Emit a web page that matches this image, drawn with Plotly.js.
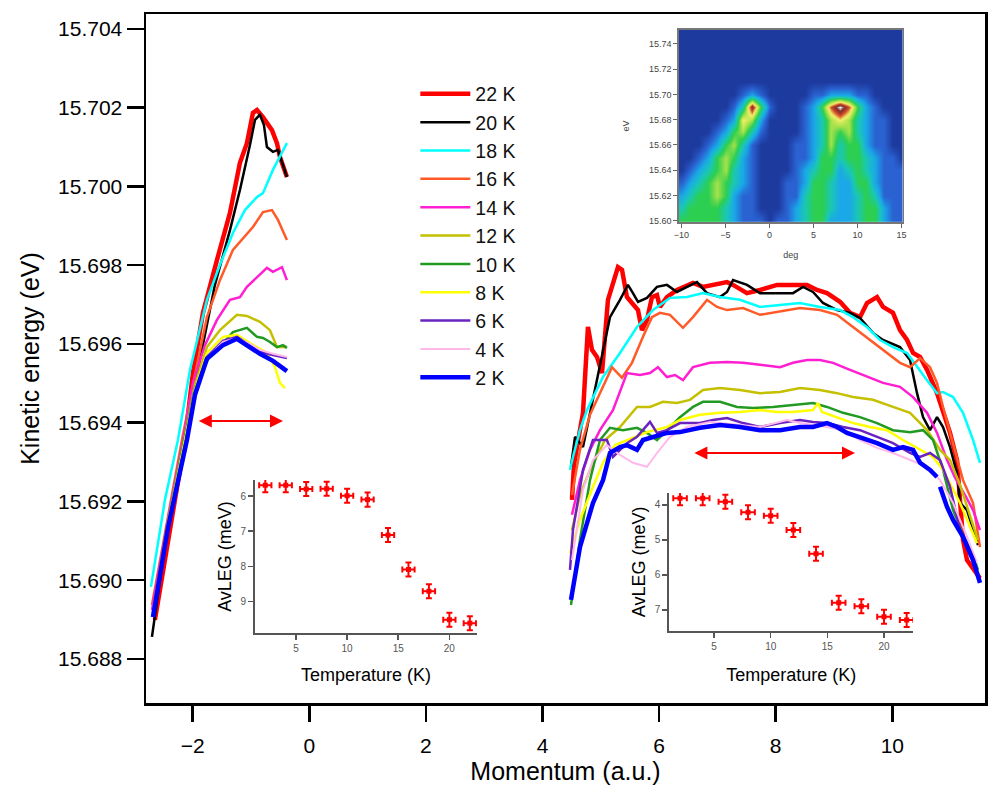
<!DOCTYPE html>
<html><head><meta charset="utf-8">
<script src="https://cdn.plot.ly/plotly-3.0.1.min.js"></script>
<style>html,body{margin:0;padding:0;background:#fff}</style>
</head><body><div id="chart" style="width:1000px;height:800px"></div>
<script>
// ---------- main EDC-peak dispersion curves (momentum a.u., kinetic energy eV) ----------
const k22L=[-2.647,-2.389,-2.132,-1.995,-1.823,-1.583,-1.360,-1.189,-1.069,-0.966,-0.897,-0.794,-0.640,-0.554,-0.503,-0.383];
const e22L=[15.68899,15.69127,15.69356,15.69526,15.69679,15.69813,15.69933,15.70060,15.70110,15.70187,15.70194,15.70176,15.70143,15.70110,15.70075,15.70024];
const k22R=[4.506,4.541,4.592,4.695,4.780,4.849,4.935,5.021,5.123,5.244,5.295,5.364,5.449,5.535,5.638,5.706,5.792,5.878,5.964,6.015,6.135,6.307,6.479,6.582,6.753,6.925,7.165,7.268,7.508,7.731,8.023,8.297,8.537,8.709,8.880,9.103,9.275,9.446,9.566,9.738,9.841,10.012,10.132,10.253,10.356,10.476,10.596,10.767,10.870,10.990,11.110,11.162,11.213,11.282,11.385,11.504];
const e22R=[15.69204,15.69293,15.69338,15.69425,15.69643,15.69585,15.69567,15.69526,15.69712,15.69770,15.69795,15.69788,15.69719,15.69704,15.69686,15.69635,15.69661,15.69719,15.69724,15.69694,15.69719,15.69737,15.69750,15.69755,15.69745,15.69750,15.69757,15.69750,15.69729,15.69737,15.69750,15.69750,15.69750,15.69737,15.69729,15.69707,15.69679,15.69668,15.69704,15.69719,15.69694,15.69679,15.69635,15.69610,15.69577,15.69567,15.69534,15.69475,15.69425,15.69374,15.69305,15.69204,15.69102,15.69051,15.69031,15.69005];

const k20L=[-2.698,-2.475,-2.166,-1.875,-1.618,-1.360,-1.189,-1.017,-0.931,-0.846,-0.777,-0.726,-0.623,-0.537,-0.468,-0.383];
const e20L=[15.68856,15.69089,15.69343,15.69559,15.69750,15.69889,15.69991,15.70105,15.70169,15.70182,15.70156,15.70100,15.70088,15.70093,15.70060,15.70024];
const k20R=[4.489,4.506,4.558,4.695,4.866,5.038,5.158,5.329,5.466,5.552,5.638,5.792,5.964,6.135,6.307,6.479,6.650,6.822,7.045,7.165,7.268,7.508,7.731,8.023,8.297,8.469,8.640,8.812,9.052,9.275,9.446,9.669,9.841,10.132,10.304,10.424,10.527,10.647,10.767,10.870,10.990,11.110,11.162,11.282,11.385,11.470];
const e20R=[15.69288,15.69305,15.69364,15.69338,15.69458,15.69577,15.69668,15.69712,15.69750,15.69729,15.69707,15.69717,15.69745,15.69750,15.69732,15.69745,15.69757,15.69729,15.69719,15.69732,15.69762,15.69750,15.69729,15.69729,15.69729,15.69745,15.69732,15.69704,15.69686,15.69679,15.69666,15.69628,15.69610,15.69592,15.69559,15.69475,15.69414,15.69381,15.69414,15.69389,15.69338,15.69272,15.69196,15.69178,15.69127,15.69089];

const k18L=[-2.715,-2.475,-2.252,-2.046,-1.755,-1.532,-1.309,-1.103,-0.897,-0.794,-0.623,-0.383];
const e18L=[15.68983,15.69204,15.69356,15.69534,15.69712,15.69801,15.69882,15.69940,15.69973,15.69983,15.70042,15.70110];
const k18R=[4.472,4.523,4.643,4.763,5.038,5.329,5.621,5.895,6.187,6.479,6.753,7.045,7.388,7.731,8.074,8.417,8.760,9.103,9.326,9.566,9.789,10.012,10.253,10.424,10.596,10.767,10.870,11.042,11.213,11.385,11.504];
const e18R=[15.69280,15.69313,15.69381,15.69432,15.69516,15.69577,15.69643,15.69686,15.69717,15.69719,15.69729,15.69719,15.69712,15.69694,15.69699,15.69704,15.69694,15.69686,15.69668,15.69643,15.69610,15.69592,15.69577,15.69541,15.69508,15.69475,15.69478,15.69465,15.69425,15.69356,15.69298];

const k16L=[-2.698,-2.424,-2.184,-1.961,-1.755,-1.532,-1.309,-0.966,-0.794,-0.640,-0.537,-0.383];
const e16L=[15.68937,15.69166,15.69356,15.69521,15.69668,15.69762,15.69839,15.69897,15.69935,15.69940,15.69915,15.69864];
const k16R=[4.506,4.643,4.815,4.986,5.192,5.364,5.535,5.724,5.878,6.015,6.187,6.410,6.582,6.822,6.993,7.165,7.440,7.731,8.023,8.417,8.760,9.052,9.326,9.618,9.909,10.132,10.304,10.476,10.647,10.767,10.870,10.990,11.110,11.213,11.385,11.504];
const e16R=[15.69216,15.69331,15.69420,15.69475,15.69541,15.69514,15.69552,15.69618,15.69668,15.69679,15.69674,15.69641,15.69668,15.69712,15.69694,15.69686,15.69691,15.69674,15.69681,15.69691,15.69686,15.69674,15.69643,15.69610,15.69577,15.69552,15.69541,15.69564,15.69541,15.69501,15.69440,15.69374,15.69305,15.69254,15.69196,15.69084];

const k14L=[-2.698,-2.424,-2.166,-1.995,-1.789,-1.583,-1.360,-1.189,-1.069,-0.897,-0.726,-0.623,-0.468,-0.383];
const e14L=[15.68924,15.69153,15.69356,15.69501,15.69597,15.69661,15.69712,15.69719,15.69745,15.69770,15.69793,15.69783,15.69795,15.69762];
const k14R=[4.506,4.643,4.815,4.986,5.209,5.449,5.672,5.844,5.981,6.135,6.273,6.410,6.582,6.873,7.165,7.440,7.731,8.074,8.297,8.537,8.760,8.983,9.275,9.566,9.841,10.132,10.356,10.596,10.767,10.939,11.076,11.247,11.385,11.504];
const e14R=[15.69166,15.69254,15.69331,15.69381,15.69432,15.69526,15.69521,15.69526,15.69541,15.69516,15.69521,15.69508,15.69541,15.69552,15.69554,15.69552,15.69547,15.69541,15.69552,15.69559,15.69559,15.69552,15.69534,15.69516,15.69501,15.69491,15.69465,15.69425,15.69374,15.69305,15.69260,15.69216,15.69178,15.69127];

const k12L=[-2.681,-2.424,-2.149,-1.961,-1.755,-1.532,-1.240,-1.069,-0.846,-0.674,-0.554,-0.383];
const e12L=[15.68919,15.69148,15.69356,15.69496,15.69592,15.69635,15.69674,15.69671,15.69656,15.69635,15.69592,15.69592];
const k12R=[4.506,4.643,4.815,5.072,5.329,5.621,5.844,6.067,6.307,6.530,6.753,7.045,7.388,7.731,8.074,8.417,8.760,9.052,9.326,9.669,10.012,10.304,10.596,10.819,10.990,11.162,11.385,11.470];
const e12R=[15.69127,15.69216,15.69280,15.69356,15.69389,15.69440,15.69440,15.69453,15.69450,15.69458,15.69483,15.69488,15.69483,15.69475,15.69478,15.69488,15.69483,15.69475,15.69465,15.69458,15.69440,15.69425,15.69381,15.69331,15.69305,15.69242,15.69140,15.69102];

const k10L=[-2.681,-2.424,-2.149,-1.961,-1.703,-1.480,-1.309,-1.069,-0.897,-0.794,-0.674,-0.554,-0.451,-0.383];
const e10L=[15.68917,15.69145,15.69354,15.69488,15.69572,15.69602,15.69630,15.69641,15.69618,15.69615,15.69605,15.69592,15.69597,15.69590];
const k10R=[4.489,4.643,4.815,4.986,5.158,5.381,5.621,5.792,5.964,6.135,6.358,6.582,6.753,7.045,7.337,7.611,7.954,8.297,8.640,8.880,9.155,9.446,9.738,10.012,10.304,10.527,10.699,10.870,11.042,11.213,11.385,11.470];
const e10R=[15.68937,15.69102,15.69254,15.69356,15.69387,15.69381,15.69387,15.69374,15.69356,15.69381,15.69414,15.69440,15.69453,15.69453,15.69440,15.69437,15.69440,15.69445,15.69450,15.69440,15.69425,15.69414,15.69399,15.69381,15.69376,15.69381,15.69356,15.69280,15.69178,15.69115,15.69064,15.69026];

const k8L=[-2.681,-2.424,-2.132,-1.961,-1.755,-1.480,-1.240,-1.017,-0.726,-0.588,-0.503,-0.417];
const e8L=[15.68914,15.69143,15.69356,15.69483,15.69577,15.69618,15.69623,15.69602,15.69577,15.69541,15.69501,15.69488];
const k8R=[4.472,4.643,4.866,5.038,5.244,5.449,5.792,6.135,6.358,6.702,7.045,7.388,7.731,8.023,8.297,8.640,8.726,8.794,9.052,9.326,9.618,9.909,10.184,10.476,10.699,10.870,11.162,11.453];
const e8R=[15.69069,15.69153,15.69237,15.69298,15.69343,15.69356,15.69376,15.69389,15.69407,15.69420,15.69425,15.69427,15.69432,15.69427,15.69427,15.69432,15.69450,15.69427,15.69414,15.69399,15.69389,15.69381,15.69356,15.69331,15.69313,15.69280,15.69196,15.69094];

const k6L=[-2.681,-2.424,-2.115,-1.961,-1.755,-1.480,-1.240,-1.017,-0.846,-0.623,-0.383];
const e6L=[15.68909,15.69138,15.69356,15.69478,15.69567,15.69608,15.69618,15.69597,15.69580,15.69572,15.69564];
const k6R=[4.472,4.523,4.695,4.866,5.106,5.209,5.449,5.621,5.844,5.964,6.135,6.358,6.702,6.925,7.165,7.440,7.731,8.074,8.417,8.640,8.880,9.155,9.446,9.738,10.012,10.304,10.476,10.647,10.819,10.990,11.162,11.333,11.453];
const e6R=[15.69026,15.69127,15.69280,15.69356,15.69356,15.69313,15.69348,15.69364,15.69402,15.69374,15.69381,15.69399,15.69399,15.69407,15.69412,15.69399,15.69389,15.69399,15.69407,15.69402,15.69399,15.69389,15.69381,15.69364,15.69348,15.69323,15.69313,15.69323,15.69305,15.69237,15.69127,15.69069,15.69026];

const k4L=[-2.681,-2.424,-2.115,-1.961,-1.755,-1.480,-1.240,-1.017,-0.846,-0.623,-0.383];
const e4L=[15.68909,15.69138,15.69354,15.69475,15.69564,15.69605,15.69615,15.69600,15.69585,15.69575,15.69567];
const k4R=[4.506,4.695,4.866,5.106,5.329,5.552,5.792,5.964,6.187,6.479,6.873,7.388,7.731,8.194,8.417,8.880,9.155,9.446,9.738,10.012,10.304,10.596,10.819,11.042,11.282,11.453];
const e4R=[15.69051,15.69229,15.69305,15.69343,15.69318,15.69298,15.69288,15.69323,15.69364,15.69389,15.69402,15.69394,15.69389,15.69407,15.69399,15.69389,15.69381,15.69356,15.69336,15.69323,15.69305,15.69288,15.69254,15.69196,15.69110,15.69044];

const k2L=[-2.681,-2.424,-2.098,-1.961,-1.755,-1.480,-1.240,-1.017,-0.846,-0.623,-0.383];
const e2L=[15.68906,15.69133,15.69356,15.69470,15.69562,15.69597,15.69613,15.69590,15.69575,15.69557,15.69531];
const k2R=[4.489,4.643,4.866,5.038,5.158,5.329,5.449,5.621,5.724,5.895,6.135,6.358,6.702,7.045,7.388,7.731,8.074,8.417,8.640,8.880,9.052,9.223,9.446,9.738,10.012,10.184,10.356,10.476,10.647,10.767,10.790,10.819,10.939,11.042,11.213,11.385,11.504];
const e2R=[15.68950,15.69084,15.69196,15.69254,15.69323,15.69338,15.69343,15.69331,15.69356,15.69364,15.69374,15.69376,15.69387,15.69394,15.69389,15.69381,15.69381,15.69389,15.69389,15.69399,15.69389,15.69374,15.69364,15.69348,15.69331,15.69338,15.69331,15.69298,15.69280,15.69262,null,15.69237,15.69186,15.69153,15.69110,15.69051,15.68993];

const seriesNames=['22 K','20 K','18 K','16 K','14 K','12 K','10 K','8 K','6 K','4 K','2 K'];

// ---------- arrows (momentum span, energy) ----------
const arrowLeft=[-1.92,-0.45,15.69404];
const arrowRight=[6.58,9.36,15.69323];

// ---------- ARPES image inset ----------
const arpesDeg=[-10,-9,-8,-7,-6,-5,-4,-3,-2,-1,0,1,2,3,4,5,6,7,8,9,10,11,12,13,14,15];
const arpesEv=[15.60,15.61,15.62,15.63,15.64,15.65,15.66,15.67,15.68,15.69,15.70,15.71,15.72,15.73,15.74,15.75];
const arpesZ=[
 [5,5,5,5,5,4,3,2,2,2,1,2,2,3,4,5,5,3,3,3,4,5,5,3,2,2],
 [4,5,5,5,5,4,3,2,2,1,1,1,2,3,4,5,5,4,3,3,4,5,5,3,2,2],
 [3,4,5,5,6,5,3,2,2,1,1,1,2,2,4,5,5,4,3,3,4,5,4,2,2,2],
 [2,3,4,5,6,5,4,3,2,1,1,1,2,2,3,5,5,4,3,3,5,5,3,2,2,2],
 [1,2,3,4,5,6,4,3,2,1,1,1,1,2,3,4,5,5,3,4,5,4,3,2,2,2],
 [1,1,2,3,5,6,5,3,2,1,1,1,1,2,2,3,5,5,4,5,5,4,3,2,2,1],
 [1,1,1,2,3,5,6,4,2,1,1,1,1,2,2,3,4,6,4,5,5,3,2,2,1,1],
 [1,1,1,1,2,3,5,6,4,2,1,1,1,1,2,3,4,6,5,6,4,3,2,2,1,1],
 [1,1,1,1,1,2,3,7,6,3,1,1,1,1,2,3,4,6,7,6,4,3,2,2,1,1],
 [1,1,1,1,1,1,2,4,9,5,2,1,1,1,2,3,5,8,10,8,5,3,2,1,1,1],
 [1,1,1,1,1,1,1,2,3,2,1,1,1,1,1,2,2,3,3,3,2,2,1,1,1,1],
 [1,1,1,1,1,1,1,1,1,1,1,1,1,1,1,1,1,1,1,1,1,1,1,1,1,1],
 [1,1,1,1,1,1,1,1,1,1,1,1,1,1,1,1,1,1,1,1,1,1,1,1,1,1],
 [1,1,1,1,1,1,1,1,1,1,1,1,1,1,1,1,1,1,1,1,1,1,1,1,1,1],
 [1,1,1,1,1,1,1,1,1,1,1,1,1,1,1,1,1,1,1,1,1,1,1,1,1,1],
 [1,1,1,1,1,1,1,1,1,1,1,1,1,1,1,1,1,1,1,1,1,1,1,1,1,1]
];

// ---------- AvLEG vs temperature insets ----------
const tempK=[2,4,6,8,10,12,14,16,18,20,22];
const avlegLeft=[5.69,5.69,5.80,5.79,5.99,6.10,7.11,8.09,8.71,9.52,9.62];
const avlegRight=[3.81,3.81,3.91,4.21,4.31,4.72,5.40,6.80,6.90,7.20,7.29];
const errTemp=0.6, errLeft=0.2, errRight=0.2;

// ---------- build ----------
const curves=[[k22L,e22L,k22R,e22R],[k20L,e20L,k20R,e20R],[k18L,e18L,k18R,e18R],[k16L,e16L,k16R,e16R],[k14L,e14L,k14R,e14R],[k12L,e12L,k12R,e12R],[k10L,e10L,k10R,e10R],[k8L,e8L,k8R,e8R],[k6L,e6L,k6R,e6R],[k4L,e4L,k4R,e4R],[k2L,e2L,k2R,e2R]];
const colors=['#ff0000','#000000','#00ffff','#ff5a28','#ff1ed2','#c4c000','#229a22','#ffff00','#6a22c0','#ffb8ea','#0000ff'];
const widths=[4.5,2.5,2.5,2.5,2.5,2.5,2.5,2.5,2.5,2,4.5];

const data=curves.map((c,i)=>({
  type:'scatter',mode:'lines',name:seriesNames[i],
  x:c[0].concat([null],c[2]),y:c[1].concat([null],c[3]),
  line:{color:colors[i],width:widths[i]},xaxis:'x',yaxis:'y',hoverinfo:'skip'
}));

data.push({type:'heatmap',x:arpesDeg,y:arpesEv,z:arpesZ,xaxis:'x2',yaxis:'y2',zmin:1,zmax:10,zsmooth:'best',showscale:false,showlegend:false,
  colorscale:[[0,'#1d3a9e'],[0.111,'#2a62d2'],[0.222,'#1aa8e8'],[0.333,'#1ac8b4'],[0.444,'#2ccf50'],[0.556,'#a8e24a'],[0.667,'#f4f06a'],[0.778,'#d04a28'],[0.889,'#7a2a2a'],[1,'#ffffff']]});

function avlegTrace(yv,ey,xa,ya){
  return {type:'scatter',mode:'markers',x:tempK,y:yv,xaxis:xa,yaxis:ya,showlegend:false,
    marker:{symbol:'square',size:5,color:'#ff0000'},
    error_y:{type:'constant',value:ey,color:'#ff0000',thickness:2,width:3},
    error_x:{type:'constant',value:errTemp,color:'#ff0000',thickness:2,width:3}};
}
data.push(avlegTrace(avlegLeft,errLeft,'x3','y3'));
data.push(avlegTrace(avlegRight,errRight,'x4','y4'));

const F='"Liberation Sans", Arial, sans-serif';
const insetAxis={showline:true,linecolor:'#555',linewidth:2,ticks:'outside',ticklen:5,tickwidth:1.5,tickcolor:'#555',showgrid:false,zeroline:false,tickfont:{size:10,color:'#555',family:F}};

const layout={
  width:1000,height:800,margin:{l:146,r:15,t:14,b:97},
  paper_bgcolor:'#ffffff',plot_bgcolor:'#ffffff',
  font:{family:F,color:'#000'},
  showlegend:true,
  legend:{x:0.321,y:0.912,xanchor:'left',yanchor:'top',font:{size:19.5,family:F,color:'#111'},bgcolor:'rgba(0,0,0,0)',itemwidth:50},
  xaxis:{domain:[0,1],anchor:'y',range:[-2.8,11.59],tick0:0,dtick:2,ticks:'outside',ticklen:16,tickwidth:2.5,tickcolor:'#000',ticklabelstandoff:6,
    showline:true,linewidth:2.5,linecolor:'#000',mirror:true,showgrid:false,zeroline:false,tickfont:{size:21},
    title:{text:'Momentum (a.u.)',font:{size:25},standoff:6}},
  yaxis:{domain:[0,1],anchor:'x',range:[15.68688,15.70438],tick0:15.688,dtick:0.002,tickformat:'.3f',ticks:'outside',ticklen:17,tickwidth:2.5,tickcolor:'#000',
    showline:true,linewidth:2.5,linecolor:'#000',mirror:true,showgrid:false,zeroline:false,tickfont:{size:21},
    title:{text:'Kinetic energy (eV)',font:{size:25},standoff:12}},
  xaxis2:{domain:[0.635,0.902],anchor:'y2',range:[-10.3,15.15],tick0:-10,dtick:5,ticks:'outside',ticklen:4,tickcolor:'#666',
    showline:true,mirror:true,linecolor:'#777',linewidth:1.5,showgrid:false,zeroline:false,tickfont:{size:9,color:'#444'},
    title:{text:'deg',font:{size:9,color:'#444'},standoff:12}},
  yaxis2:{domain:[0.698,0.977],anchor:'x2',range:[15.599,15.751],tick0:15.60,dtick:0.02,tickformat:'.2f',ticks:'outside',ticklen:4,tickcolor:'#666',
    showline:true,mirror:true,linecolor:'#777',linewidth:1.5,showgrid:false,zeroline:false,tickfont:{size:9,color:'#444'},
    title:{text:'eV',font:{size:9,color:'#444'},standoff:18}},
  xaxis3:Object.assign({},insetAxis,{domain:[0.130,0.3945],anchor:'y3',range:[1,22.7],tick0:0,dtick:5,
    title:{text:'Temperature (K)',font:{size:18,color:'#000'},standoff:15}}),
  yaxis3:Object.assign({},insetAxis,{domain:[0.1016,0.3237],anchor:'x3',range:[9.9,5.54],tick0:6,dtick:1,
    title:{text:'AvLEG (meV)',font:{size:18,color:'#000'},standoff:4}}),
  xaxis4:Object.assign({},insetAxis,{domain:[0.6237,0.9142],anchor:'y4',range:[1.05,22.56],tick0:0,dtick:5,
    title:{text:'Temperature (K)',font:{size:18,color:'#000'},standoff:18}}),
  yaxis4:Object.assign({},insetAxis,{domain:[0.1049,0.3048],anchor:'x4',range:[7.6,3.66],tick0:4,dtick:1,
    title:{text:'AvLEG (meV)',font:{size:18,color:'#000'},standoff:4}}),
  annotations:[arrowLeft,arrowRight].map(a=>({xref:'x',yref:'y',axref:'x',ayref:'y',x:a[1],y:a[2],ax:a[0],ay:a[2],text:'',
    showarrow:true,arrowhead:2,arrowside:'end+start',arrowsize:1.3,arrowwidth:2,arrowcolor:'#ff0000'}))
};

Plotly.newPlot('chart',data,layout,{displayModeBar:false,staticPlot:true});
</script></body></html>
